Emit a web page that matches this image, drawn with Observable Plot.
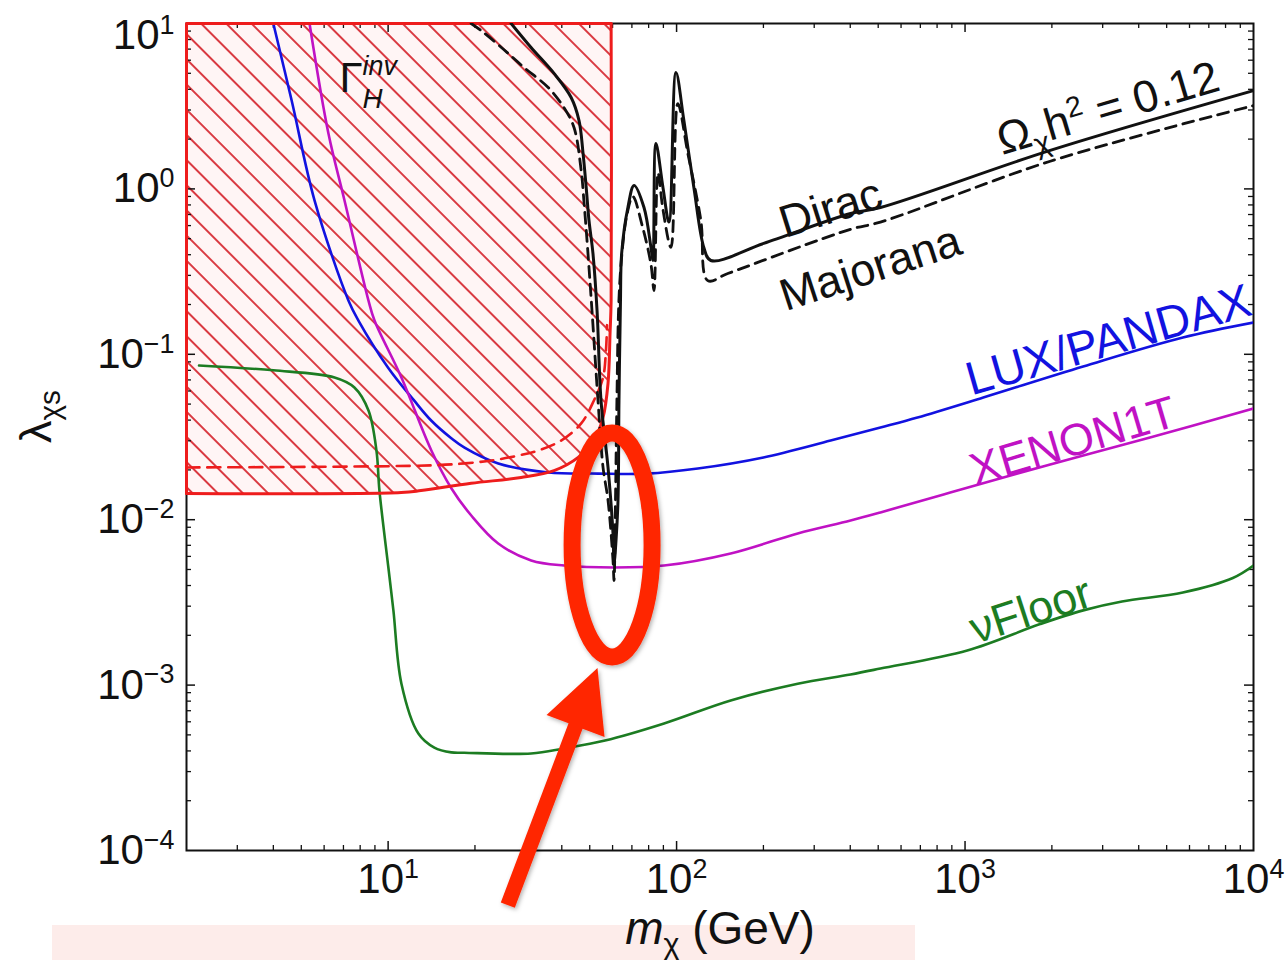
<!DOCTYPE html>
<html><head><meta charset="utf-8">
<script src="https://cdn.jsdelivr.net/npm/d3@7"></script>
<script src="https://cdn.jsdelivr.net/npm/@observablehq/plot@0.6"></script>
<style>
html,body{margin:0;padding:0;background:#fff;}
#chart{position:absolute;left:0;top:0;}
text{white-space:pre;}
</style></head><body><div id="chart"></div>
<script>
// ---------- data (mass in GeV, coupling lambda_chi_s) ----------
const massTicks = [10, 100, 1000, 10000];
const massTickLabels = ["10^{1}", "10^{2}", "10^{3}", "10^{4}"];
const lambdaTicks = [1e-4, 1e-3, 1e-2, 1e-1, 1, 10];
const lambdaTickLabels = ["10^{−4}", "10^{−3}", "10^{−2}", "10^{−1}", "10^{0}", "10^{1}"];

const luxPandax = [[4.0,10],[4.63,3.42],[5.56,0.85],[7.29,0.211],[7.89,0.160],[10.0,0.083],[12.3,0.0526],[14.1,0.0398],[16.6,0.0310],[18.4,0.0273],[24.1,0.0219],[35.9,0.0193],[53.4,0.0190],[79,0.0190],[118.5,0.0204],[200,0.0238],[342,0.0301],[509,0.0361],[684,0.0415],[1157,0.0548],[2567,0.0844],[5692,0.1263],[10000,0.1556]];
const xenon1t = [[5.34,10],[6.21,2.16],[7.06,0.851],[8.55,0.211],[8.97,0.160],[11.12,0.0724],[14.12,0.0262],[16.56,0.0155],[19.42,0.0106],[24.08,0.00718],[31.32,0.00567],[40.74,0.00528],[60.68,0.00514],[90.5,0.00528],[154,0.00625],[263,0.00826],[401,0.00989],[509,0.01107],[889,0.0146],[1974,0.0216],[4377,0.0314],[10000,0.0470]];
const nuFloor = [[2.21,0.0856],[4.0,0.080],[6.52,0.0724],[7.64,0.0630],[8.55,0.0457],[9.11,0.0262],[9.33,0.0150],[10.02,0.00514],[10.43,0.00283],[11.12,0.00102],[12.73,0.00051],[14.46,0.000419],[16.56,0.000392],[18.37,0.000390],[31.3,0.000386],[40.7,0.000414],[56.5,0.000462],[90.5,0.000586],[154,0.000807],[263,0.00102],[401,0.00116],[509,0.00126],[1018,0.00162],[1822,0.00234],[2567,0.00283],[3500,0.00320],[5692,0.00363],[8481,0.00444],[10000,0.00528]];
const dirac = [[26.7,10],[31.3,7.16],[37.6,4.99],[43.1,3.57],[45.9,2.59],[47.4,1.64],[48.6,1.02],[49.7,0.644],[51.3,0.407],[53.0,0.184],[54.7,0.0526],[57.85,0.0207],[60.2,0.00826],[60.7,0.00543],[61.66,0.00748],[62.65,0.0131],[63.14,0.0526],[63.9,0.211],[64.5,0.407],[67.8,0.772],[71.2,1.05],[77.1,0.772],[81.5,0.443],[82.8,0.369],[84.8,1.88],[89.7,1.02],[94.1,0.63],[99.5,5.05],[106,2.59],[114.8,1.02],[124.3,0.443],[131.4,0.369],[200.5,0.468],[401,0.71],[509,0.772],[1974,1.71],[10000,3.93]];
const majorana = [[19.4,10],[21.0,9.07],[24.7,7.16],[29.6,5.42],[35.9,4.10],[40.7,3.10],[44.1,2.35],[46.7,1.29],[47.8,0.816],[49.3,0.407],[50.9,0.184],[53.4,0.0526],[55.6,0.0207],[57.85,0.0131],[60.2,0.00567],[60.7,0.00429],[61.4,0.0131],[62.1,0.0526],[63.1,0.211],[64.6,0.40],[67.3,0.70],[70.5,0.90],[76,0.60],[81.5,0.35],[83.5,0.243],[86.2,1.25],[89.7,0.75],[95.6,0.443],[101,3.28],[109.4,1.64],[121.4,0.644],[128.3,0.279],[150.5,0.308],[401,0.57],[509,0.63],[1974,1.47],[10000,3.19]];
const higgsInvBound = [[2,0.0144],[11.1,0.0146],[13.0,0.0150],[19.4,0.0166],[28.9,0.0180],[37.6,0.0198],[45.6,0.0238],[51.7,0.0301],[55.6,0.0415],[57.85,0.0666],[58.8,0.134],[59.3,0.211],[59.3,10]];
const higgsInvEdges = [[59.3,10],[2,10],[2,0.0144]];
const higgsInvFuture = [[2,0.0207],[14.1,0.0213],[18.4,0.0219],[22.8,0.0228],[28.2,0.0244],[33.1,0.0262],[39.8,0.0301],[46.7,0.0382],[51.7,0.0526],[55.6,0.0724],[56.9,0.105],[57.4,0.15]];

// label texts and anchor points (data units)
const labelTexts  = ["Dirac", "Majorana", "Ω_{χ}h^{2} = 0.12", "LUX/PANDAX", "XENON1T", "νFloor"];
const labelMass   = [342, 470, 3133, 3250, 2449, 1750];
const labelLambda = [0.761, 0.330, 3.06, 0.099, 0.0245, 0.00232];
const gammaLabel = {text: "Γ^{*inv*}_{*H*}", mass: 6.78, lambda: 3.83};
// annotation (red ellipse + arrow) anchors in data units
const ringCenter = {mass: 60.0, lambda: 0.00698};
const arrowTail = {mass: 26.1, lambda: 4.64e-5};
const arrowTip  = {mass: 53.4, lambda: 0.00126};

// ---------- styles ----------
const BLUE = "#1212e0", MAG = "#c012c4", GREEN = "#1c7c22", RED = "#ee1c1c", BLACK = "#111";
const FONT = "'Liberation Sans', Arial, Helvetica, sans-serif";
const mt = 23, mb = 110, H = 960, plotH = H - mt - mb;

const minorX = [], minorY = [];
for (let k = 0; k <= 3; k++) for (let m = 2; m <= 9; m++) { const v = m * 10 ** k; if (v > 2 && v < 1e4) minorX.push(v); }
for (let k = -4; k <= 0; k++) for (let m = 2; m <= 9; m++) minorY.push(m * 10 ** k);
const majorY = [1e-3, 1e-2, 1e-1, 1];
const majorX = [10, 100, 1000];

const X = d => d[0], Y = d => d[1];
const labelMark = (i, angle, color, anchor, size, clip) => Plot.text([i], {
  x: j => labelMass[j], y: j => labelLambda[j], text: j => labelTexts[j],
  rotate: angle, fill: color, fontSize: size, textAnchor: "middle", lineAnchor: anchor, clip
});

const chart = Plot.plot({
  width: 1288, height: H,
  marginLeft: 186, marginRight: 35, marginTop: mt, marginBottom: mb,
  x: {type: "log", domain: [2, 1e4], axis: null},
  y: {type: "log", domain: [1e-4, 10], axis: null},
  style: {fontFamily: FONT, background: "transparent", overflow: "visible"},
  marks: [
    Plot.areaY(higgsInvBound, {x: X, y1: Y, y2: 10, fill: "url(#hatch)", curve: "catmull-rom"}),
    Plot.frame({stroke: BLACK, strokeWidth: 2}),
    // ticks (inward, all four sides)
    Plot.tickX(majorX, {x: d => d, insetTop: plotH - 9, stroke: BLACK, strokeWidth: 1.5}),
    Plot.tickX(majorX, {x: d => d, insetBottom: plotH - 9, stroke: BLACK, strokeWidth: 1.5}),
    Plot.tickX(minorX, {x: d => d, insetTop: plotH - 5, stroke: BLACK, strokeWidth: 1.3}),
    Plot.tickX(minorX, {x: d => d, insetBottom: plotH - 5, stroke: BLACK, strokeWidth: 1.3}),
    Plot.tickY(majorY, {y: d => d, insetRight: 1067 - 9, stroke: BLACK, strokeWidth: 1.5}),
    Plot.tickY(majorY, {y: d => d, insetLeft: 1067 - 9, stroke: BLACK, strokeWidth: 1.5}),
    Plot.tickY(minorY, {y: d => d, insetRight: 1067 - 5, stroke: BLACK, strokeWidth: 1.3}),
    Plot.tickY(minorY, {y: d => d, insetLeft: 1067 - 5, stroke: BLACK, strokeWidth: 1.3}),
    // curves
    Plot.line(nuFloor, {x: X, y: Y, stroke: GREEN, strokeWidth: 2.6, curve: "catmull-rom", clip: true}),
    Plot.line(luxPandax, {x: X, y: Y, stroke: BLUE, strokeWidth: 2.6, curve: "catmull-rom", clip: true}),
    Plot.line(xenon1t, {x: X, y: Y, stroke: MAG, strokeWidth: 2.6, curve: "catmull-rom", clip: true}),
    Plot.line(higgsInvFuture, {x: X, y: Y, stroke: RED, strokeWidth: 2.6, strokeDasharray: "13,8", curve: "catmull-rom", clip: true}),
    Plot.line(higgsInvBound, {x: X, y: Y, stroke: RED, strokeWidth: 3, curve: "catmull-rom"}),
    Plot.line(higgsInvEdges, {x: X, y: Y, stroke: RED, strokeWidth: 3}),
    Plot.line(majorana, {x: X, y: Y, stroke: BLACK, strokeWidth: 2.8, strokeDasharray: "11,7", curve: "catmull-rom", clip: true}),
    Plot.line(dirac, {x: X, y: Y, stroke: BLACK, strokeWidth: 3, curve: "catmull-rom", clip: true}),
    // curve labels
    labelMark(0, -17.5, BLACK, "middle", 45, false),
    labelMark(1, -18, BLACK, "middle", 45, false),
    labelMark(2, -16.5, BLACK, "middle", 45, false),
    labelMark(3, -16, BLUE, "bottom", 47, true),
    labelMark(4, -16.5, MAG, "bottom", 45, false),
    labelMark(5, -18, GREEN, "bottom", 45, false),
    Plot.text([gammaLabel], {x: d => d.mass, y: d => d.lambda, text: d => d.text, textAnchor: "start", lineAnchor: "bottom", fontSize: 42, fill: BLACK}),
    // tick labels
    Plot.text(massTicks, {x: d => d, text: (d, i) => massTickLabels[i], frameAnchor: "bottom", lineAnchor: "top", dy: 13, fontSize: 42, fill: BLACK}),
    Plot.text(lambdaTicks, {filter: d => d < 10, y: d => d, text: (d, i) => lambdaTickLabels[i], frameAnchor: "left", textAnchor: "end", lineAnchor: "middle", dx: -12, fontSize: 42, fill: BLACK}),
    Plot.text(lambdaTicks, {filter: d => d >= 10, y: d => d, text: (d, i) => lambdaTickLabels[i], frameAnchor: "left", textAnchor: "end", lineAnchor: "middle", dx: -12, dy: 12, fontSize: 42, fill: BLACK}),
    // axis titles
    Plot.text(["*m*_{χ} (GeV)"], {text: d => d, frameAnchor: "bottom", lineAnchor: "bottom", dy: 93, fontSize: 46, fill: BLACK}),
    Plot.text(["λ_{χs}"], {text: d => d, frameAnchor: "left", lineAnchor: "bottom", rotate: -90, dx: -136, dy: 6, fontSize: 45, fill: BLACK})
  ]
});

document.getElementById("chart").appendChild(chart);
const svg = d3.select(chart);

// hatch pattern, shadow filter, pink caption band
const defs = svg.insert("defs", ":first-child");
const pat = defs.append("pattern").attr("id", "hatch").attr("patternUnits", "userSpaceOnUse")
  .attr("width", 17.8).attr("height", 17.8).attr("patternTransform", "rotate(-45)");
pat.append("rect").attr("width", 17.8).attr("height", 17.8).attr("fill", "#fff5f5");
pat.append("line").attr("x1", 1).attr("y1", -1).attr("x2", 1).attr("y2", 19).attr("stroke", "#d8323a").attr("stroke-width", 1.9);
defs.append("filter").attr("id", "shadow").attr("x", "-20%").attr("y", "-20%").attr("width", "140%").attr("height", "140%")
  .append("feDropShadow").attr("dx", 1.5).attr("dy", 2).attr("stdDeviation", 2).attr("flood-color", "#000").attr("flood-opacity", 0.3);
svg.insert("rect", "defs + *").attr("x", 52).attr("y", 925).attr("width", 863).attr("height", 35).attr("fill", "#fdecea");

// rich text (superscripts / subscripts / italics)
const NS = "http://www.w3.org/2000/svg";
chart.querySelectorAll("text").forEach(el => {
  const s = el.textContent;
  if (!/[\^_]\{|\*/.test(s)) return;
  const stacked = /\^\{[^}]*\}_\{/.test(s);
  const base = parseFloat(getComputedStyle(el).fontSize);
  el.textContent = "";
  const re = /(\^\{[^}]*\}|_\{[^}]*\}|\*[^*]*\*|[^\^_*]+)/g;
  let m, cur = 0, lastSup = null;
  while ((m = re.exec(s))) {
    let tok = m[0], kind = "n", italic = false;
    if (tok.startsWith("^{")) { kind = "sup"; tok = tok.slice(2, -1); }
    else if (tok.startsWith("_{")) { kind = "sub"; tok = tok.slice(2, -1); }
    if (tok.length > 1 && tok.startsWith("*") && tok.endsWith("*")) { italic = true; tok = tok.slice(1, -1); }
    const ts = document.createElementNS(NS, "tspan");
    ts.textContent = tok;
    let target = 0, size = base;
    if (kind === "sup") { target = -(stacked ? 0.42 : 0.36) * base; size = 0.64 * base; }
    if (kind === "sub") { target = (lastSup ? 0.36 : 0.22) * base; size = 0.66 * base; }
    ts.setAttribute("font-size", size);
    if (italic) ts.setAttribute("font-style", "italic");
    if (target !== cur) ts.setAttribute("dy", target - cur);
    el.appendChild(ts);
    if (kind === "sub" && lastSup) ts.setAttribute("dx", -lastSup.getComputedTextLength());
    cur = target;
    lastSup = kind === "sup" ? ts : null;
  }
});

// annotation: red ring and arrow placed through the plot's scales
const sx = chart.scale("x"), sy = chart.scale("y");
const ann = svg.append("g").attr("filter", "url(#shadow)");
ann.append("ellipse").attr("cx", sx.apply(ringCenter.mass)).attr("cy", sy.apply(ringCenter.lambda))
  .attr("rx", 40).attr("ry", 112).attr("fill", "none").attr("stroke", "#ff2600").attr("stroke-width", 17);
const tx = sx.apply(arrowTail.mass), ty = sy.apply(arrowTail.lambda);
const hx = sx.apply(arrowTip.mass), hy = sy.apply(arrowTip.lambda);
const len = Math.hypot(hx - tx, hy - ty), ux = (hx - tx) / len, uy = (hy - ty) / len, nx = -uy, ny = ux;
const headL = 62, headW = 31, shaftW = 7.5;
const bx = hx - ux * headL, by = hy - uy * headL;
const pts = [[tx + nx * shaftW, ty + ny * shaftW], [bx + nx * shaftW, by + ny * shaftW], [bx + nx * headW, by + ny * headW], [hx, hy],
  [bx - nx * headW, by - ny * headW], [bx - nx * shaftW, by - ny * shaftW], [tx - nx * shaftW, ty - ny * shaftW]];
ann.append("path").attr("d", "M" + pts.map(p => p.join(",")).join("L") + "Z").attr("fill", "#ff2600");
</script>
</body></html>
